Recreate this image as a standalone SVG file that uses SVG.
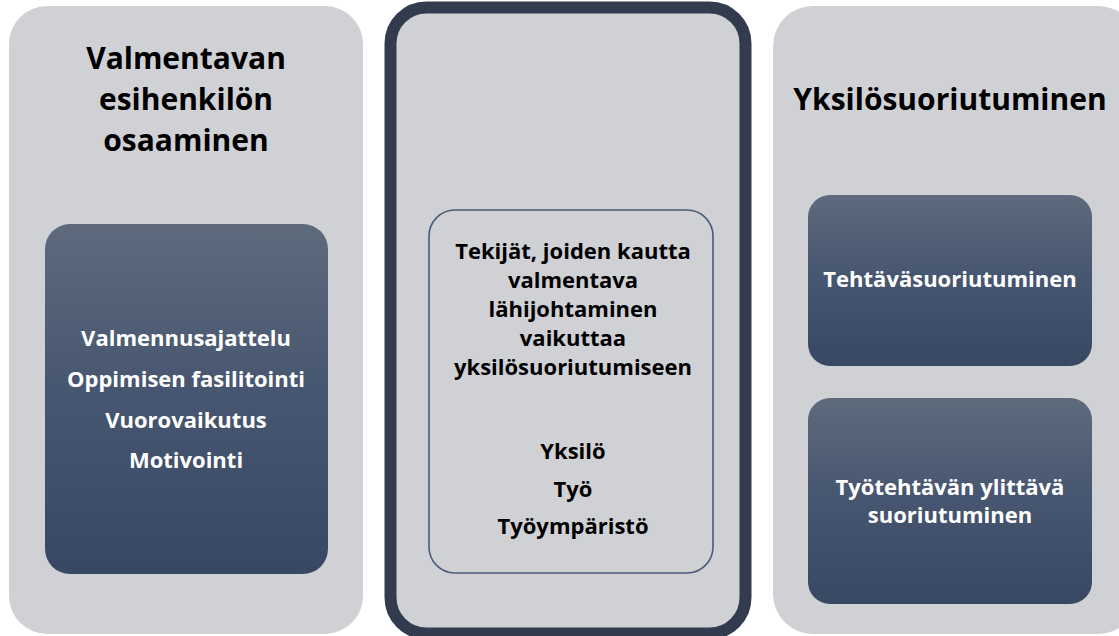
<svg xmlns="http://www.w3.org/2000/svg" width="1119" height="636" viewBox="0 0 1119 636">
  <defs>
    <linearGradient id="dark" x1="0" y1="0" x2="0" y2="1">
      <stop offset="0" stop-color="#5e6a7c"/>
      <stop offset="0.5" stop-color="#465570"/>
      <stop offset="1" stop-color="#394862"/>
    </linearGradient>
    <style>
      .panel { fill: #d0d1d5; }
      .darkbox { fill: url(#dark); }
      .title { font-family: "Open Sans", "DejaVu Sans", sans-serif; font-weight: 700; font-size: 30px; fill: #000000; text-anchor: middle; }
      .body { font-family: "Open Sans", "DejaVu Sans", sans-serif; font-weight: 700; font-size: 22px; text-anchor: middle; }
      .white { fill: #ffffff; }
      .black { fill: #000000; }
    </style>
  </defs>
  <rect width="1119" height="636" fill="#ffffff"/>

  <g id="left-panel">
    <rect class="panel" x="9" y="6" width="354" height="628" rx="38" ry="38"/>
    <text class="title" x="186" y="69">Valmentavan</text>
    <text class="title" x="186" y="110">esihenkilön</text>
    <text class="title" x="186" y="151">osaaminen</text>
  </g>

  <g id="left-competences">
    <rect class="darkbox" x="45" y="224" width="283" height="350" rx="25" ry="25"/>
    <text class="body white" x="186" y="346">Valmennusajattelu</text>
    <text class="body white" x="186" y="387">Oppimisen fasilitointi</text>
    <text class="body white" x="186" y="428">Vuorovaikutus</text>
    <text class="body white" x="186" y="468">Motivointi</text>
  </g>

  <g id="middle-panel">
    <rect class="panel" x="390.5" y="7.5" width="355" height="626" rx="36" ry="36" stroke="#323c4e" stroke-width="12"/>
  </g>

  <g id="middle-factors">
    <rect x="429" y="210" width="284" height="363" rx="26" ry="26" fill="none" stroke="#4a5b75" stroke-width="1.6"/>
    <text class="body black" x="573" y="259">Tekijät, joiden kautta</text>
    <text class="body black" x="573" y="288">valmentava</text>
    <text class="body black" x="573" y="317">lähijohtaminen</text>
    <text class="body black" x="573" y="346">vaikuttaa</text>
    <text class="body black" x="573" y="375">yksilösuoriutumiseen</text>
    <text class="body black" x="573" y="459">Yksilö</text>
    <text class="body black" x="573" y="497">Työ</text>
    <text class="body black" x="573" y="534">Työympäristö</text>
  </g>

  <g id="right-panel">
    <rect class="panel" x="773" y="6" width="365" height="628" rx="40" ry="40"/>
    <text class="title" x="950" y="110">Yksilösuoriutuminen</text>
  </g>

  <g id="task-performance">
    <rect class="darkbox" x="808" y="195" width="284" height="171" rx="22" ry="22"/>
    <text class="body white" x="950" y="287">Tehtäväsuoriutuminen</text>
  </g>

  <g id="contextual-performance">
    <rect class="darkbox" x="808" y="398" width="284" height="206" rx="22" ry="22"/>
    <text class="body white" x="950" y="495">Työtehtävän ylittävä</text>
    <text class="body white" x="950" y="523">suoriutuminen</text>
  </g>

  <g id="connectors"></g>
</svg>
